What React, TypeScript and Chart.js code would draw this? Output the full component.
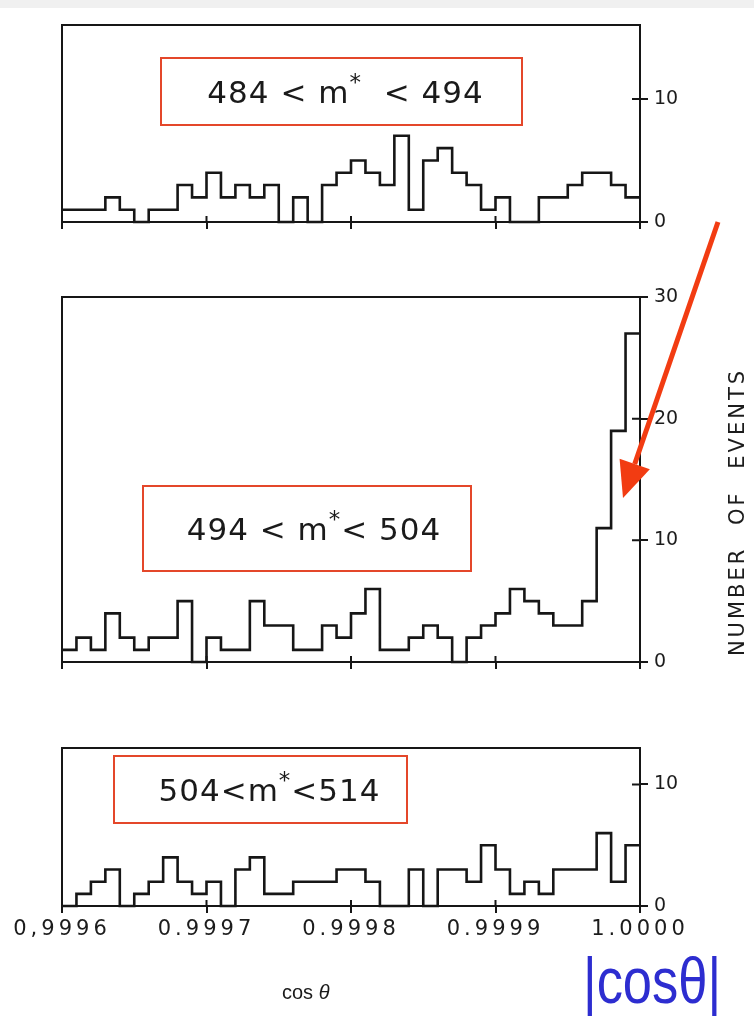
import React, { useEffect, useRef } from "react";
import { Chart, registerables } from "chart.js";

Chart.register(...registerables);

// ---- data ----
const BIN_START = 0.9996;
const BIN_WIDTH = 0.00001;
const BIN_COUNT = 40;

const TOP_COUNTS = [1, 1, 1, 2, 1, 0, 1, 1, 3, 2, 4, 2, 3, 2, 3, 0, 2, 0, 3, 4, 5, 4, 3, 7, 1, 5, 6, 4, 3, 1, 2, 0, 0, 2, 2, 3, 4, 4, 3, 2];
const MID_COUNTS = [1, 2, 1, 4, 2, 1, 2, 2, 5, 0, 2, 1, 1, 5, 3, 3, 1, 1, 3, 2, 4, 6, 1, 1, 2, 3, 2, 0, 2, 3, 4, 6, 5, 4, 3, 3, 5, 11, 19, 27];
const BOT_COUNTS = [0, 1, 2, 3, 0, 1, 2, 4, 2, 1, 2, 0, 3, 4, 1, 1, 2, 2, 2, 3, 3, 2, 0, 0, 3, 0, 3, 3, 2, 5, 3, 1, 2, 1, 3, 3, 3, 6, 2, 5];

const X_TICKS = [0.9996, 0.9997, 0.9998, 0.9999, 1.0];
const X_TICK_LABELS = ["0,9996", "0.9997", "0.9998", "0.9999", "1.0000"];
const TOP_Y_TICKS = [0, 10];
const MID_Y_TICKS = [0, 10, 20, 30];
const BOT_Y_TICKS = [0, 10];

const TOP_LABEL = ["484 < m", "*", "  < 494"];
const MID_LABEL = ["494 < m", "*", "< 504"];
const BOT_LABEL = ["504<m", "*", "<514"];

const Y_AXIS_TITLE = "NUMBER OF EVENTS";
const X_AXIS_TITLE = "cos";
const X_AXIS_THETA = "θ";
const BLUE_NOTE = "|cosθ|";

// bin edges of the histogram grid
const BIN_EDGES = Array.from({ length: BIN_COUNT + 1 }, (_, i) =>
  Number((BIN_START + i * BIN_WIDTH).toFixed(5))
);

const INK = "#161616";
const RED = "#e4472a";
const ARROW = "#f23c12";
const TICK_FONT = "'DejaVu Sans', sans-serif";

function stepData(counts: number[]) {
  const pts = counts.map((c, i) => ({ x: BIN_EDGES[i], y: c }));
  pts.push({ x: BIN_EDGES[counts.length], y: counts[counts.length - 1] });
  return pts;
}

const framePlugin = {
  id: "frame",
  afterDraw(chart: any) {
    const { ctx, chartArea } = chart;
    const xs = chart.scales.x;
    const ys = chart.scales.y;
    ctx.save();
    ctx.strokeStyle = INK;
    ctx.lineWidth = 2;
    ctx.strokeRect(chartArea.left, chartArea.top, chartArea.right - chartArea.left, chartArea.bottom - chartArea.top);
    // inward halves of the tick marks
    ctx.beginPath();
    xs.ticks.forEach((t: any) => {
      const px = xs.getPixelForValue(t.value);
      if (px > chartArea.left + 2 && px < chartArea.right - 2) {
        ctx.moveTo(px, chartArea.bottom);
        ctx.lineTo(px, chartArea.bottom - 6);
      }
    });
    ys.ticks.forEach((t: any) => {
      const py = ys.getPixelForValue(t.value);
      if (py > chartArea.top + 2 && py < chartArea.bottom - 2) {
        ctx.moveTo(chartArea.right, py);
        ctx.lineTo(chartArea.right - 8, py);
      }
    });
    ctx.stroke();
    ctx.restore();
  },
};

// widen the x tick labels (letter-spaced lettering) without touching the y labels
function spacedLabels(s: any) {
  if (s.__spaced) return;
  s.__spaced = true;
  const base = Object.getPrototypeOf(s).drawLabels;
  s.drawLabels = function (area: any) {
    const ctx = this.ctx;
    ctx.save();
    ctx.letterSpacing = "4px";
    base.call(this, area);
    ctx.restore();
  };
}

type PanelProps = {
  counts: number[];
  yMax: number;
  yTicks: number[];
  top: number;
  height: number;
  padTop: number;
  xAxisHeight: number;
  showXLabels: boolean;
};

function Panel({ counts, yMax, yTicks, top, height, padTop, xAxisHeight, showXLabels }: PanelProps) {
  const ref = useRef<HTMLCanvasElement>(null);
  useEffect(() => {
    const chart = new Chart(ref.current as HTMLCanvasElement, {
      type: "line",
      data: {
        datasets: [
          {
            data: stepData(counts),
            stepped: true,
            borderColor: INK,
            borderWidth: 2.6,
            pointRadius: 0,
            fill: false,
            clip: 6,
          } as any,
        ],
      },
      options: {
        animation: false,
        responsive: false,
        layout: { padding: { left: 62, top: padTop, right: 0, bottom: 0 } },
        plugins: {
          legend: { display: false },
          tooltip: { enabled: false },
        },
        scales: {
          x: {
            type: "linear",
            min: BIN_START,
            max: BIN_EDGES[BIN_COUNT],
            afterBuildTicks: (s: any) => {
              s.ticks = X_TICKS.map((v) => ({ value: v }));
            },
            afterFit: (s: any) => {
              s.height = xAxisHeight;
              spacedLabels(s);
            },
            grid: { drawOnChartArea: false, drawTicks: true, tickLength: 7, color: INK, lineWidth: 2 },
            border: { display: true, color: INK, width: 2 },
            ticks: {
              display: showXLabels,
              autoSkip: false,
              maxRotation: 0,
              padding: 4,
              color: "#1c1c1c",
              font: { family: TICK_FONT, size: 21 },
              callback: (_v: any, i: number) => X_TICK_LABELS[i],
            },
          },
          y: {
            type: "linear",
            position: "right",
            min: 0,
            max: yMax,
            afterBuildTicks: (s: any) => {
              s.ticks = yTicks.map((v) => ({ value: v }));
            },
            afterFit: (s: any) => {
              s.width = 114;
            },
            grid: { drawOnChartArea: false, drawTicks: true, tickLength: 8, color: INK, lineWidth: 2 },
            border: { display: true, color: INK, width: 2 },
            ticks: {
              padding: 6,
              color: "#1c1c1c",
              font: { family: TICK_FONT, size: 19 },
            },
          },
        },
      } as any,
      plugins: [framePlugin],
    });
    return () => chart.destroy();
  }, []);
  return (
    <canvas
      ref={ref}
      width={754}
      height={height}
      style={{ position: "absolute", left: 0, top, width: 754, height, display: "block" }}
    />
  );
}

function LabelBox({ parts, left, top, width, height, shift }: { parts: string[]; left: number; top: number; width: number; height: number; shift: number }) {
  return (
    <div
      style={{
        position: "absolute",
        left,
        top,
        width,
        height,
        boxSizing: "border-box",
        border: `2px solid ${RED}`,
        display: "flex",
        alignItems: "center",
        justifyContent: "center",
        paddingLeft: shift,
        fontFamily: TICK_FONT,
        fontSize: 31,
        letterSpacing: "1px",
        color: "#1a1a1a",
        whiteSpace: "pre",
      }}
    >
      <span>
        {parts[0]}
        <span style={{ fontSize: 23, position: "relative", top: -13 }}>{parts[1]}</span>
        {parts[2]}
      </span>
    </div>
  );
}

export default function App() {
  // arrow geometry (annotation)
  const tail = { x: 718, y: 222 };
  const tip = { x: 623, y: 498 };
  const dx = tip.x - tail.x;
  const dy = tip.y - tail.y;
  const len = Math.hypot(dx, dy);
  const ux = dx / len;
  const uy = dy / len;
  const headLen = 36;
  const half = 16;
  const bx = tip.x - headLen * ux;
  const by = tip.y - headLen * uy;
  const nx = -uy;
  const ny = ux;
  const head = `${tip.x},${tip.y} ${bx + half * nx},${by + half * ny} ${bx - half * nx},${by - half * ny}`;

  return (
    <div
      style={{
        position: "absolute",
        left: 0,
        top: 0,
        width: 754,
        height: 1024,
        background: "#ffffff",
        overflow: "hidden",
      }}
    >
      <div style={{ position: "absolute", left: 0, top: 0, width: 754, height: 8, background: "#f0f0f0" }} />
      <Panel counts={TOP_COUNTS} yMax={16} yTicks={TOP_Y_TICKS} top={0} height={262} padTop={25} xAxisHeight={40} showXLabels={false} />
      <Panel counts={MID_COUNTS} yMax={30} yTicks={MID_Y_TICKS} top={262} height={420} padTop={35} xAxisHeight={20} showXLabels={false} />
      <Panel counts={BOT_COUNTS} yMax={13} yTicks={BOT_Y_TICKS} top={682} height={342} padTop={66} xAxisHeight={118} showXLabels={true} />

      <LabelBox parts={TOP_LABEL} left={160} top={57} width={363} height={69} shift={8} />
      <LabelBox parts={MID_LABEL} left={142} top={485} width={330} height={87} shift={14} />
      <LabelBox parts={BOT_LABEL} left={113} top={755} width={295} height={69} shift={18} />

      <svg width={754} height={1024} style={{ position: "absolute", left: 0, top: 0, pointerEvents: "none" }}>
        <line x1={tail.x} y1={tail.y} x2={bx} y2={by} stroke={ARROW} strokeWidth={5} />
        <polygon points={head} fill={ARROW} />
      </svg>

      <div
        style={{
          position: "absolute",
          left: 737,
          top: 512,
          transform: "translate(-50%, -50%) rotate(-90deg)",
          fontFamily: TICK_FONT,
          fontSize: 21,
          letterSpacing: "3px",
          wordSpacing: "12px",
          whiteSpace: "nowrap",
          color: "#1c1c1c",
          lineHeight: 1,
        }}
      >
        {Y_AXIS_TITLE}
      </div>

      <div
        style={{
          position: "absolute",
          left: 282,
          top: 982,
          fontFamily: "'Liberation Sans', Arial, sans-serif",
          fontSize: 20,
          color: "#1a1a1a",
          whiteSpace: "pre",
          lineHeight: 1,
        }}
      >
        {X_AXIS_TITLE} <i>{X_AXIS_THETA}</i>
      </div>

      <div
        style={{
          position: "absolute",
          left: 583,
          top: 949,
          fontFamily: "'Liberation Sans', Arial, sans-serif",
          fontSize: 64,
          lineHeight: 1,
          color: "#2d2dd0",
          whiteSpace: "nowrap",
          transform: "scaleX(0.82)",
          transformOrigin: "left top",
        }}
      >
        {BLUE_NOTE}
      </div>
    </div>
  );
}
